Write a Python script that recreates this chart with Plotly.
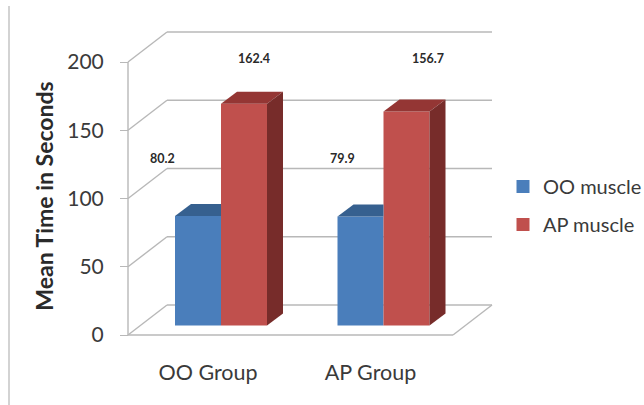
import plotly.graph_objects as go

CATEGORIES = ["OO Group", "AP Group"]
SERIES_NAMES = ["OO muscle", "AP muscle"]
OO_VALUES = [80.2, 79.9]
AP_VALUES = [162.4, 156.7]
Y_TICKS = [0, 50, 100, 150, 200]

W, H = 644, 405
BLUE, BLUE_TOP = "#4A7EBB", "#36608F"
RED, RED_TOP, RED_SIDE = "#C0504D", "#943634", "#772C2A"
GRID = "#B8B8B8"
FONT = "Lato"
TEXT = "#3A3A3A"

# scale: category axis 162.5 px per group, value axis 1.365 px per unit
XS, YS = 162.5, 1.365
X0_PX, Y0_PX, BAR_Y0_PX = 221.0, 335.0, 325.5
AXIS_BOTTOM_PX = 392
def xd(px): return (px - X0_PX) / XS
def yd(py): return (Y0_PX - py) / YS
def yb(py): return (BAR_Y0_PX - py) / YS

BAR_W = 46 / XS
DX, DY = 16 / XS, 12 / YS      # bar depth
WX, WY = 39 / XS, 30 / YS      # wall depth
LEFT, RIGHT = xd(128), xd(453)

fig = go.Figure()
pos = list(range(len(CATEGORIES)))

for name, vals, col in ((SERIES_NAMES[0], OO_VALUES, BLUE), (SERIES_NAMES[1], AP_VALUES, RED)):
    fig.add_trace(go.Bar(x=pos, y=vals, name=name, marker=dict(color=col, line=dict(width=0)),
                         yaxis="y2", showlegend=False, hoverinfo="skip"))

def poly(xs, ys, color):
    fig.add_trace(go.Scatter(x=xs, y=ys, yaxis="y2", mode="lines", fill="toself", fillcolor=color,
                             line=dict(width=0, color=color), showlegend=False, hoverinfo="skip"))

for i, (a, b) in enumerate(zip(OO_VALUES, AP_VALUES)):
    # blue top face, cut at the red bar's front edge
    poly([i - BAR_W, i - BAR_W + DX, i, i, i - BAR_W], [a, a + DY, a + DY, a, a], BLUE_TOP)
    # red top face and side face
    poly([i, i + DX, i + BAR_W + DX, i + BAR_W, i], [b, b + DY, b + DY, b, b], RED_TOP)
    poly([i + BAR_W, i + BAR_W + DX, i + BAR_W + DX, i + BAR_W, i + BAR_W], [0, DY, b + DY, b, 0], RED_SIDE)

# legend entries
for name, col in zip(SERIES_NAMES, (BLUE, RED)):
    fig.add_trace(go.Scatter(x=[None], y=[None], name=name, mode="markers", legendgroup=name,
                             marker=dict(symbol="square", size=13, color=col)))

shapes = []
def seg(x0, y0, x1, y1, color=GRID, width=1.4):
    shapes.append(dict(type="line", xref="x", yref="y", x0=x0, y0=y0, x1=x1, y1=y1,
                       line=dict(color=color, width=width), layer="below"))
seg(LEFT, 0, LEFT, Y_TICKS[-1])
seg(LEFT, 0, RIGHT, 0)
seg(RIGHT, 0, RIGHT + WX, WY)
for t in Y_TICKS:
    seg(LEFT, t, LEFT + WX, t + WY)
    seg(LEFT + WX, t + WY, RIGHT + WX, t + WY)
# outer frame remnant at left
shapes.append(dict(type="line", xref="paper", yref="paper", x0=9 / W, x1=9 / W, y0=0, y1=1 - 6 / H,
                   line=dict(color="#C4C4C4", width=1.5), layer="below"))

LABEL_PX = [(162, 158, OO_VALUES[0]), (254, 58, AP_VALUES[0]), (342, 158, OO_VALUES[1]), (428, 58, AP_VALUES[1])]
annotations = [dict(x=xd(px), y=yd(py), xref="x", yref="y", text=f"{v:.1f}", showarrow=False,
                    font=dict(family=FONT, size=12.5, color="#2A2A2A", weight="bold"))
               for px, py, v in LABEL_PX]

y_domain = [1 - AXIS_BOTTOM_PX / H, 1]

fig.update_layout(
    width=W, height=H, autosize=False,
    margin=dict(l=0, r=0, t=0, b=0, autoexpand=False),
    paper_bgcolor="white", plot_bgcolor="white",
    barmode="group", bargap=1 - 2 * BAR_W, bargroupgap=0,
    font=dict(family=FONT, color=TEXT),
    shapes=shapes, annotations=annotations,
    showlegend=True,
    legend=dict(x=503 / W, y=1 - 167 / H, xanchor="left", yanchor="top", bgcolor="rgba(0,0,0,0)",
                font=dict(family=FONT, size=20, color=TEXT), traceorder="grouped",
                tracegroupgap=9, itemwidth=30),
    xaxis=dict(domain=[0, 1], range=[xd(0), xd(W)], anchor="free", position=1 - Y0_PX / H,
               tickmode="array", tickvals=[p - 13 / XS for p in pos], ticktext=CATEGORIES,
               ticks="outside", ticklen=18, tickcolor="rgba(0,0,0,0)", showgrid=False, zeroline=False,
               tickfont=dict(family=FONT, size=21.5, color=TEXT), showline=False),
    yaxis=dict(domain=y_domain, range=[yd(AXIS_BOTTOM_PX), yd(0)], anchor="free", position=128 / W,
               tickmode="array", tickvals=Y_TICKS, ticks="outside", ticklen=8, tickcolor=GRID, tickwidth=1.4,
               ticklabelstandoff=12,
               showgrid=False, zeroline=False, showline=False,
               tickfont=dict(family=FONT, size=21, color=TEXT),
               title=dict(text="Mean Time in Seconds", standoff=6,
                          font=dict(family=FONT, size=23, color="#2A2A2A", weight="bold"))),
    yaxis2=dict(domain=y_domain, range=[yb(AXIS_BOTTOM_PX), yb(0)], overlaying="y", visible=False),
)

fig.write_html("out.html", config=dict(displayModeBar=False),
               post_script="document.body.style.margin='0';document.documentElement.style.overflow='hidden';")
